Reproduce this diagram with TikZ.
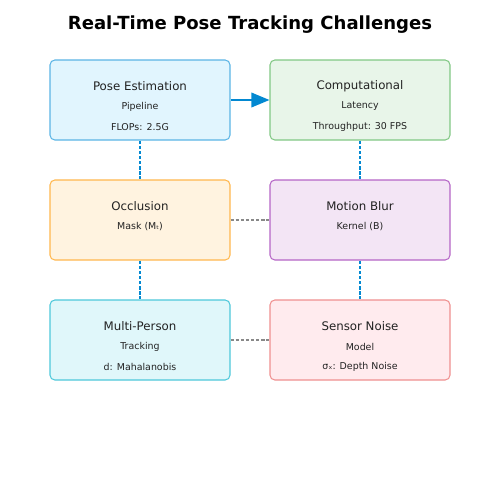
\documentclass[tikz,border=0pt]{standalone}
\usepackage{fontspec}
\setmainfont{DejaVu Sans}
\usetikzlibrary{arrows.meta}
\definecolor{bfill}{HTML}{E1F5FE}\definecolor{bdraw}{HTML}{5AB4E5}
\definecolor{gfill}{HTML}{E8F5E9}\definecolor{gdraw}{HTML}{81C784}
\definecolor{ofill}{HTML}{FFF3E0}\definecolor{odraw}{HTML}{FFB74D}
\definecolor{pfill}{HTML}{F3E5F5}\definecolor{pdraw}{HTML}{B565C6}
\definecolor{cfill}{HTML}{E0F7FA}\definecolor{cdraw}{HTML}{4DC8DA}
\definecolor{rfill}{HTML}{FFEBEE}\definecolor{rdraw}{HTML}{EF8F8F}
\definecolor{linkblue}{HTML}{0288D1}
\definecolor{linkgray}{HTML}{888888}
\definecolor{txt}{HTML}{222222}
\begin{document}
\begin{tikzpicture}[x=0.72pt,y=-0.72pt,
  box/.style={draw, rounded corners=3.5pt, line width=0.75pt, minimum width=129.6pt, minimum height=57.6pt, inner sep=0pt},
  main/.style={font=\fontsize{8.5}{10}\selectfont, text=txt, inner sep=0pt},
  sub/.style={font=\fontsize{6.8}{8}\selectfont, text=txt, inner sep=0pt},
  vlink/.style={draw=linkblue, line width=1.6pt, dash pattern=on 2.4pt off 1.3pt},
  hlink/.style={draw=linkgray, line width=1.2pt, dash pattern=on 2.3pt off 1.4pt},
  arr/.style={draw=linkblue, line width=1.2pt, -{Triangle[length=13pt,width=10.5pt]}}]
\useasboundingbox (0,0) rectangle (500,500);
\node[font=\fontsize{13}{16}\selectfont\bfseries, text=black] (title) at (250,24.5) {Real-Time Pose Tracking Challenges};
% boxes
\node[box, fill=bfill, draw=bdraw] (b1) at (140,100) {};
\node[box, fill=gfill, draw=gdraw] (b2) at (360,100) {};
\node[box, fill=ofill, draw=odraw] (b3) at (140,220) {};
\node[box, fill=pfill, draw=pdraw] (b4) at (360,220) {};
\node[box, fill=cfill, draw=cdraw] (b5) at (140,340) {};
\node[box, fill=rfill, draw=rdraw] (b6) at (360,340) {};
% texts
\node[main] (t1) at (140,86) {Pose Estimation};
\node[sub] (s1) at (140,106.5) {Pipeline};
\node[sub] (u1) at (140,127) {FLOPs: 2.5G};
\node[main] (t2) at (360,86) {Computational};
\node[sub] (s2) at (360,106.5) {Latency};
\node[sub] (u2) at (360,127) {Throughput: 30 FPS};
\node[main] (t3) at (140,206) {Occlusion};
\node[sub] (s3) at (140,226.5) {Mask (Mₜ)};
\node[main] (t4) at (360,206) {Motion Blur};
\node[sub] (s4) at (360,226.5) {Kernel (B)};
\node[main] (t5) at (140,326) {Multi-Person};
\node[sub] (s5) at (140,346.5) {Tracking};
\node[sub] (u5) at (140,367) {d: Mahalanobis};
\node[main] (t6) at (360,326) {Sensor Noise};
\node[sub] (s6) at (360,346.5) {Model};
\node[sub] (u6) at (360,367) {σₓ: Depth Noise};
% connectors
\draw[arr] (b1.east) -- (b2.west);
\draw[vlink] (b1.south) -- (b3.north);
\draw[vlink] (b3.south) -- (b5.north);
\draw[vlink] (b2.south) -- (b4.north);
\draw[vlink] (b4.south) -- (b6.north);
\draw[hlink] (b3.east) -- (b4.west);
\draw[hlink] (b5.east) -- (b6.west);
\end{tikzpicture}
\end{document}
